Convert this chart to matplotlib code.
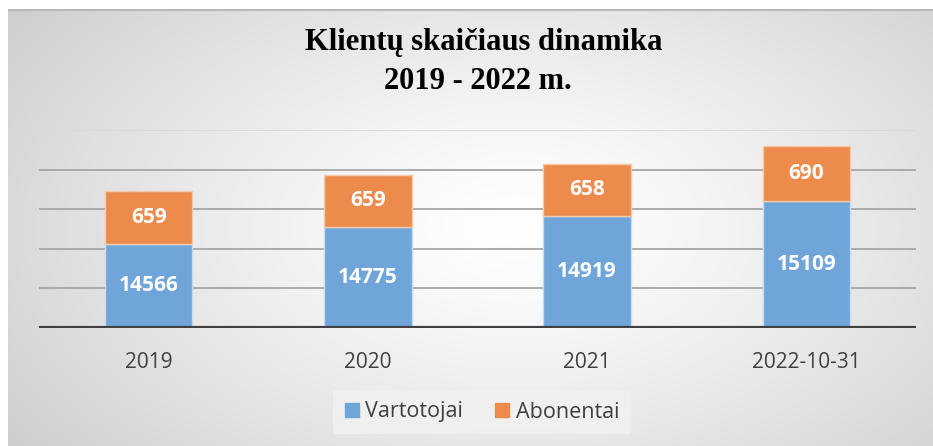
import numpy as np
import matplotlib
matplotlib.use("Agg")
import matplotlib.pyplot as plt
from matplotlib.patches import Patch

categories = ["2019", "2020", "2021", "2022-10-31"]
vartotojai = [14566, 14775, 14919, 15109]
abonentai = [659, 659, 658, 690]
title_lines = ["Klientų skaičiaus dinamika", "2019 - 2022 m."]

W, H = 933, 446
fig = plt.figure(figsize=(W / 100, H / 100), dpi=100)
fig.patch.set_facecolor("white")

# background radial gradient
bg = fig.add_axes([8 / W, 0, 1 - 8 / W, 1 - 9 / H])
bg.set_axis_off()
nx, ny = 400, 200
xx, yy = np.meshgrid(np.linspace(0, 1, nx), np.linspace(0, 1, ny))
cx, cy = 0.55, 0.5
r = np.sqrt(((xx - cx) / 0.75) ** 2 + ((yy - cy) / 0.95) ** 2)
r = np.clip(r, 0, 1)
val = 1.0 - 0.22 * r ** 1.3
img = np.dstack([val, val, val])
bg.imshow(img, extent=(0, 1, 0, 1), aspect="auto", origin="lower")
bg.set_xlim(0, 1)
bg.set_ylim(0, 1)
bg.plot([0, 1], [0.998, 0.998], color="#b8b8b8", lw=1.5)

ax = fig.add_axes([39 / W, 1 - 328 / H, (916 - 39) / W, (328 - 130) / H])
ax.set_facecolor("none")
ymin, ymax = 13500, 16000
ax.set_ylim(ymin, ymax)
x = np.arange(len(categories))
ax.set_xlim(-0.5, len(categories) - 0.5)

for yv in [14000, 14500, 15000, 15500]:
    ax.axhline(yv, color="#a6a6a6", lw=1.3, zorder=1)
ax.axhline(16000, color="#d9d9d9", lw=1.3, zorder=1)

blue = "#6FA5D8"
orange = "#EC8B4C"
w = 0.40
ax.bar(x, np.array(vartotojai) - ymin, bottom=ymin, width=w, color=blue,
       edgecolor="#c6dcf0", lw=1.0, zorder=3)
ax.bar(x, abonentai, bottom=vartotojai, width=w, color=orange,
       edgecolor="#f6c9a8", lw=1.0, zorder=3)

for i in range(len(categories)):
    ax.text(x[i], (ymin + vartotojai[i]) / 2, str(vartotojai[i]), ha="center",
            va="center", color="white", fontsize=15, fontweight="bold",
            family="Open Sans", zorder=4)
    ax.text(x[i], vartotojai[i] + abonentai[i] / 2, str(abonentai[i]),
            ha="center", va="center", color="white", fontsize=15,
            fontweight="bold", family="Open Sans", zorder=4)

ax.axhline(ymin, color="#404040", lw=3, zorder=5)
for s in ax.spines.values():
    s.set_visible(False)
ax.set_yticks([])
ax.set_xticks(x)
ax.set_xticklabels(categories, fontsize=15, color="#404040", family="Open Sans")
ax.tick_params(axis="x", length=0, pad=17)

fig.text(484 / W, 1 - 50 / H, title_lines[0], ha="center", va="baseline",
         fontsize=22, fontweight="bold", family="Liberation Serif", color="black")
fig.text(478 / W, 1 - 89 / H, title_lines[1], ha="center", va="baseline",
         fontsize=22, fontweight="bold", family="Liberation Serif", color="black")

handles = [Patch(facecolor=blue, edgecolor=blue), Patch(facecolor=orange, edgecolor=orange)]
leg = fig.legend(handles, ["Vartotojai", "Abonentai"], loc="center",
                 bbox_to_anchor=(482 / W, 1 - 412 / H), ncol=2, frameon=True,
                 prop={"family": "Open Sans", "size": 15.5}, handlelength=0.65,
                 handleheight=0.65, handletextpad=0.3, columnspacing=1.5,
                 fancybox=False, borderpad=0.55)
leg.get_frame().set_facecolor("#f2f2f2")
leg.get_frame().set_edgecolor("none")
leg.get_frame().set_alpha(0.8)
for t in leg.get_texts():
    t.set_color("#404040")

fig.savefig("out.png", dpi=100)
